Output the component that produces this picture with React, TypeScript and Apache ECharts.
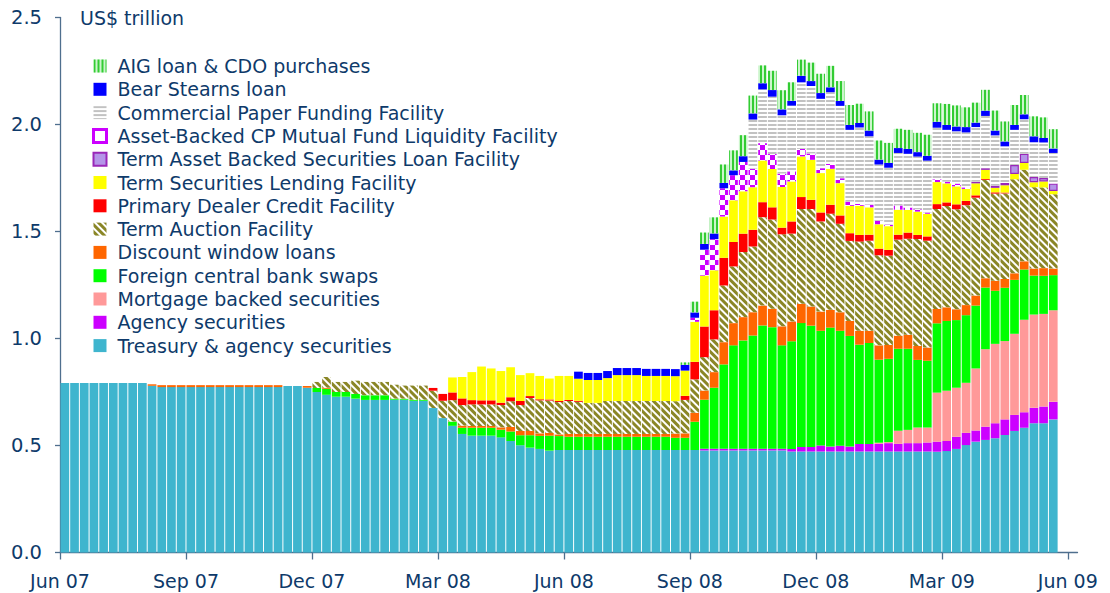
import React, { useEffect, useRef } from 'react';
import * as echarts from 'echarts';

// ---- weekly categories: 105 week slots on the axis, 103 with data (Jun 2007 .. May 2009) ----
const DAY = 24 * 3600 * 1000;
const START = Date.UTC(2007, 4, 30);
const NUM_SLOTS = 105;
const weeks: string[] = [];
for (let i = 0; i < NUM_SLOTS; i++) weeks.push(new Date(START + i * 7 * DAY).toISOString().slice(0, 10));

const tickWeekIndex = [0, 13, 26, 39, 52, 65, 78, 91, 104];
const tickLabels = ['Jun 07', 'Sep 07', 'Dec 07', 'Mar 08', 'Jun 08', 'Sep 08', 'Dec 08', 'Mar 09', 'Jun 09'];
const yTicks = [0, 0.5, 1.0, 1.5, 2.0, 2.5];

// ---- series values, US$ trillion (one per week) ----
const treasury = [
  0.792,0.792,0.792,0.792,0.792,0.792,0.792,0.792,0.792,0.779,
  0.773,0.773,0.773,0.773,0.773,0.773,0.773,0.773,0.773,0.773,
  0.773,0.773,0.773,0.778,0.778,0.770,0.750,0.737,0.728,0.728,
  0.719,0.713,0.713,0.713,0.714,0.714,0.709,0.709,0.675,0.628,
  0.592,0.554,0.546,0.546,0.546,0.538,0.521,0.501,0.490,0.484,
  0.476,0.479,0.479,0.479,0.479,0.479,0.479,0.479,0.479,0.479,
  0.479,0.479,0.479,0.479,0.479,0.479,0.477,0.477,0.477,0.477,
  0.477,0.477,0.477,0.477,0.477,0.472,0.472,0.472,0.472,0.472,
  0.472,0.472,0.472,0.472,0.472,0.472,0.472,0.472,0.472,0.472,
  0.471,0.474,0.484,0.502,0.518,0.526,0.534,0.549,0.568,0.583,
  0.604,0.604,0.622,
];
const agency = [
  0,0,0,0,0,0,0,0,0,0, 0,0,0,0,0,0,0,0,0,0, 0,0,0,0,0,0,0,0,0,0,
  0,0,0,0,0,0,0,0,0,0, 0,0,0,0,0,0,0,0,0,0, 0,0,0,0,0,0,0,0,0,0,
  0,0,0,0,0,0,0.008,0.008,0.008,0.008,
  0.008,0.008,0.008,0.008,0.008,0.012,0.021,0.021,0.028,0.023,
  0.027,0.023,0.035,0.035,0.036,0.039,0.036,0.039,0.039,0.042,
  0.047,0.047,0.057,0.057,0.052,0.062,0.070,0.073,0.075,0.072,
  0.072,0.078,0.082,
];
const mbs = [
  0,0,0,0,0,0,0,0,0,0, 0,0,0,0,0,0,0,0,0,0, 0,0,0,0,0,0,0,0,0,0,
  0,0,0,0,0,0,0,0,0,0, 0,0,0,0,0,0,0,0,0,0, 0,0,0,0,0,0,0,0,0,0,
  0,0,0,0,0,0,0,0,0,0, 0,0,0,0,0,0,0,0,0,0,
  0,0,0,0,0.005,0.005,0.061,0.062,0.073,0.070,
  0.229,0.235,0.229,0.234,0.290,0.362,0.371,0.366,0.379,0.433,
  0.436,0.433,0.428,
];
const fxSwaps = [
  0,0,0,0,0,0,0,0,0,0, 0,0,0,0,0,0,0,0,0,0,
  0,0,0,0,0,0,0.019,0.028,0.022,0.022,
  0.022,0.022,0.022,0.022,0.005,0.005,0.005,0.005,0,0,
  0.020,0.029,0.037,0.037,0.037,0.036,0.045,0.047,0.058,0.061,
  0.070,0.065,0.062,0.062,0.062,0.062,0.062,0.062,0.062,0.062,
  0.062,0.062,0.062,0.057,0.057,0.132,0.229,0.285,0.394,0.483,
  0.506,0.529,0.576,0.568,0.483,0.503,0.579,0.567,0.536,0.556,
  0.537,0.517,0.464,0.472,0.388,0.389,0.383,0.379,0.316,0.312,
  0.324,0.326,0.316,0.316,0.294,0.288,0.248,0.249,0.252,0.234,
  0.182,0.178,0.164,
];
const discountWindow = [
  0,0,0,0,0,0,0,0,0,0.007,
  0.009,0.009,0.009,0.009,0.009,0.009,0.009,0.009,0.009,0.009,
  0.009,0.009,0.009,0,0,0.008,0,0.005,0,0,
  0,0,0,0,0,0,0,0,0,0,
  0,0.010,0.008,0.008,0.008,0.011,0.020,0.020,0.020,0.012,
  0.013,0.008,0.013,0.013,0.013,0.013,0.013,0.013,0.013,0.013,
  0.013,0.013,0.013,0.020,0.021,0.042,0.043,0.073,0.104,0.104,
  0.109,0.109,0.093,0.086,0.089,0.093,0.090,0.090,0.090,0.083,
  0.087,0.070,0.065,0.057,0.067,0.065,0.061,0.065,0.065,0.062,
  0.067,0.064,0.051,0.047,0.047,0.044,0.047,0.041,0.031,0.039,
  0.033,0.036,0.031,
];
const taf = [
  0,0,0,0,0,0,0,0,0,0, 0,0,0,0,0,0,0,0,0,0,
  0,0,0,0,0,0,0.028,0.050,0.047,0.047,
  0.062,0.062,0.062,0.062,0.065,0.061,0.066,0.066,0.081,0.081,
  0.100,0.096,0.101,0.101,0.101,0.104,0.121,0.121,0.154,0.154,
  0.151,0.151,0.154,0.150,0.145,0.145,0.154,0.154,0.154,0.154,
  0.154,0.154,0.154,0.151,0.156,0.156,0.156,0.153,0.265,0.265,
  0.304,0.307,0.413,0.417,0.430,0.410,0.443,0.455,0.421,0.449,
  0.413,0.374,0.417,0.421,0.421,0.417,0.449,0.449,0.500,0.499,
  0.467,0.473,0.467,0.467,0.457,0.459,0.407,0.400,0.439,0.428,
  0.380,0.377,0.347,
];
const pdcf = [
  0,0,0,0,0,0,0,0,0,0, 0,0,0,0,0,0,0,0,0,0, 0,0,0,0,0,0,0,0,0,0,
  0,0,0,0,0,0,0,0,0.013,0.032,
  0.036,0.031,0.020,0.019,0.019,0.011,0.019,0.019,0.009,0.005,
  0.005,0.005,0.005,0.005,0,0,0,0,0,0,
  0,0,0,0,0.019,0.082,0.143,0.136,0.129,0.114,
  0.086,0.078,0.070,0.057,0.031,0.057,0.056,0.043,0.042,0.042,
  0.039,0.036,0.031,0.028,0.031,0.027,0.023,0.029,0.019,0.020,
  0.023,0.017,0.023,0.020,0.011,0.004,0.006,0.004,0,0,
  0,0,0,
];
const tslf = [
  0,0,0,0,0,0,0,0,0,0, 0,0,0,0,0,0,0,0,0,0, 0,0,0,0,0,0,0,0,0,0,
  0,0,0,0,0,0,0,0,0,0,
  0.070,0.100,0.131,0.158,0.149,0.148,0.140,0.121,0.107,0.109,
  0.098,0.117,0.112,0.103,0.107,0.107,0.107,0.121,0.121,0.121,
  0.117,0.117,0.117,0.117,0.118,0.187,0.238,0.187,0.193,0.195,
  0.198,0.199,0.195,0.179,0.190,0.187,0.190,0.187,0.184,0.168,
  0.151,0.128,0.136,0.128,0.114,0.111,0.117,0.106,0.109,0.106,
  0.103,0.089,0.084,0.056,0.056,0.043,0.021,0.034,0.025,0.031,
  0.023,0.028,0.015,
];
const talf = [
  0,0,0,0,0,0,0,0,0,0, 0,0,0,0,0,0,0,0,0,0, 0,0,0,0,0,0,0,0,0,0,
  0,0,0,0,0,0,0,0,0,0, 0,0,0,0,0,0,0,0,0,0, 0,0,0,0,0,0,0,0,0,0,
  0,0,0,0,0,0,0,0,0,0, 0,0,0,0,0,0,0,0,0,0, 0,0,0,0,0,0,0,0,0,0,
  0,0,0,0,0.008,0.008,0.011,0.011,0.042,0.043,
  0.025,0.016,0.035,
];
const amlf = [
  0,0,0,0,0,0,0,0,0,0, 0,0,0,0,0,0,0,0,0,0, 0,0,0,0,0,0,0,0,0,0,
  0,0,0,0,0,0,0,0,0,0, 0,0,0,0,0,0,0,0,0,0, 0,0,0,0,0,0,0,0,0,0,
  0,0,0,0,0,0.019,0.121,0.145,0.132,0.117,
  0.137,0.087,0.081,0.070,0.063,0.047,0.035,0.030,0.023,0.023,
  0.023,0.020,0.009,0.013,0.016,0.008,0.020,0.011,0.011,0.006,
  0.013,0.008,0.013,0.007,0,0,0,0,0,0,
  0,0,0,
];
const cpff = [
  0,0,0,0,0,0,0,0,0,0, 0,0,0,0,0,0,0,0,0,0, 0,0,0,0,0,0,0,0,0,0,
  0,0,0,0,0,0,0,0,0,0, 0,0,0,0,0,0,0,0,0,0, 0,0,0,0,0,0,0,0,0,0,
  0,0,0,0,0,0,0,0,0,0,
  0,0.229,0.251,0.268,0.272,0.307,0.311,0.315,0.324,0.335,
  0.338,0.335,0.357,0.319,0.263,0.265,0.245,0.251,0.246,0.242,
  0.241,0.242,0.244,0.257,0.255,0.244,0.234,0.171,0.164,0.162,
  0.162,0.166,0.143,
];
const bearStearns = [
  0,0,0,0,0,0,0,0,0,0, 0,0,0,0,0,0,0,0,0,0, 0,0,0,0,0,0,0,0,0,0,
  0,0,0,0,0,0,0,0,0,0, 0,0,0,0,0,0,0,0,0,0,
  0,0,0,0.033,0.033,0.033,0.033,0.033,0.033,0.033,
  0.033,0.033,0.033,0.033,0.027,0.025,0.027,0.027,0.025,0.023,
  0.027,0.029,0.029,0.031,0.028,0.023,0.031,0.023,0.027,0.023,
  0.023,0.023,0.021,0.027,0.023,0.023,0.023,0.023,0.021,0.023,
  0.028,0.023,0.023,0.025,0.021,0.025,0.023,0.023,0.023,0.023,
  0.028,0.021,0.021,
];
const aig = [
  0,0,0,0,0,0,0,0,0,0, 0,0,0,0,0,0,0,0,0,0, 0,0,0,0,0,0,0,0,0,0,
  0,0,0,0,0,0,0,0,0,0, 0,0,0,0,0,0,0,0,0,0, 0,0,0,0,0,0,0,0,0,0,
  0,0,0,0,0.011,0.050,0.053,0.075,0.086,0.093,
  0.098,0.083,0.083,0.090,0.089,0.086,0.075,0.086,0.090,0.100,
  0.093,0.093,0.090,0.089,0.089,0.093,0.090,0.089,0.090,0.098,
  0.086,0.098,0.098,0.092,0.093,0.097,0.093,0.093,0.093,0.090,
  0.093,0.096,0.090,
];

const NAMES = {
  aig: 'AIG loan & CDO purchases',
  bs: 'Bear Stearns loan',
  cpff: 'Commercial Paper Funding Facility',
  amlf: 'Asset-Backed CP Mutual Fund Liquidity Facility',
  talf: 'Term Asset Backed Securities Loan Facility',
  tslf: 'Term Securities Lending Facility',
  pdcf: 'Primary Dealer Credit Facility',
  taf: 'Term Auction Facility',
  dw: 'Discount window loans',
  fx: 'Foreign central bank swaps',
  mbs: 'Mortgage backed securities',
  ag: 'Agency securities',
  t: 'Treasury & agency securities',
};

const FONT = '"DejaVu Sans", Verdana, sans-serif';
const TEXT = '#0E3A6A';
const AXIS = '#4F6F8E';

export default function App() {
  const ref = useRef<HTMLDivElement>(null);
  useEffect(() => {
    document.body.style.margin = '0';
    const chart = echarts.init(ref.current as HTMLDivElement, null, { renderer: 'svg' });

    const mk = (name: string, vals: number[], itemStyle: any) => ({
      name,
      type: 'bar',
      stack: 'total',
      xAxisIndex: 0,
      barWidth: 8.7,
      data: vals.map((v) => (v === 0 ? null : v)),
      itemStyle,
      emphasis: { disabled: true },
    });

    const series = [
      mk(NAMES.t, treasury, { color: '#3FB5CE' }),
      mk(NAMES.ag, agency, { color: '#CC00FF' }),
      mk(NAMES.mbs, mbs, { color: '#FF9999' }),
      mk(NAMES.fx, fxSwaps, { color: '#00FF00' }),
      mk(NAMES.dw, discountWindow, { color: '#FF6600' }),
      mk(NAMES.taf, taf, {
        color: '#FFFFFF',
        decal: { symbol: 'rect', symbolSize: 1, color: '#8A8626', dashArrayX: [1, 0], dashArrayY: [2.2, 1.8], rotation: Math.PI / 4 },
      }),
      mk(NAMES.pdcf, pdcf, { color: '#FF0000' }),
      mk(NAMES.tslf, tslf, { color: '#FFFF00' }),
      mk(NAMES.talf, talf, { color: '#B495E8', borderColor: '#9A27B8', borderWidth: 1.2 }),
      mk(NAMES.amlf, amlf, {
        color: '#FFFFFF',
        decal: { symbol: 'rect', symbolSize: 1, color: '#CC00FF', dashArrayX: [[4.5, 4.5], [0, 4.5, 4.5, 0]], dashArrayY: [4.5, 0] },
      }),
      mk(NAMES.cpff, cpff, {
        color: '#FFFFFF',
        decal: { symbol: 'rect', symbolSize: 1, color: '#C2C2C2', dashArrayX: [1, 0], dashArrayY: [2, 1.3] },
      }),
      mk(NAMES.bs, bearStearns, { color: '#0000FF' }),
      mk(NAMES.aig, aig, {
        color: '#CCF5CC',
        decal: { symbol: 'rect', symbolSize: 1, color: '#33CC33', dashArrayX: [2, 1.3], dashArrayY: [1, 0] },
      }),
    ];

    chart.setOption({
      animation: false,
      textStyle: { fontFamily: FONT },
      grid: { left: 60, top: 17.5, width: 1017.5, height: 535 },
      legend: {
        orient: 'vertical',
        left: 92,
        top: 56.5,
        padding: 0,
        icon: 'rect',
        itemWidth: 13,
        itemHeight: 13,
        itemGap: 4.3,
        selectedMode: false,
        textStyle: { fontSize: 19, lineHeight: 19, color: TEXT, fontFamily: FONT, padding: [0, 0, 0, 6] },
        data: [
          NAMES.aig,
          NAMES.bs,
          NAMES.cpff,
          { name: NAMES.amlf, itemStyle: { color: '#FFFFFF', borderColor: '#CC00FF', borderWidth: 3, decal: 'none' } },
          NAMES.talf,
          NAMES.tslf,
          NAMES.pdcf,
          NAMES.taf,
          NAMES.dw,
          NAMES.fx,
          NAMES.mbs,
          NAMES.ag,
          NAMES.t,
        ],
      },
      graphic: [
        { type: 'text', left: 80, top: 8.5, style: { text: 'US$ trillion', fontSize: 19, fill: TEXT, fontFamily: FONT } },
      ],
      xAxis: [
        {
          type: 'category',
          data: weeks,
          boundaryGap: true,
          position: 'bottom',
          axisLine: { show: true, lineStyle: { color: AXIS, width: 1.3 } },
          axisTick: { show: false },
          axisLabel: { show: false },
          splitLine: { show: false },
        },
        {
          // week-number scale carrying the quarterly ticks and labels
          type: 'value',
          min: 0,
          max: NUM_SLOTS,
          position: 'bottom',
          axisLine: { show: false },
          axisTick: { show: true, length: 7, customValues: tickWeekIndex, lineStyle: { color: AXIS, width: 1.3 } },
          axisLabel: {
            customValues: tickWeekIndex,
            formatter: (v: number) => tickLabels[tickWeekIndex.indexOf(Math.round(v))] || '',
            color: TEXT,
            fontSize: 19,
            fontFamily: FONT,
            margin: 19,
            showMinLabel: true,
            showMaxLabel: true,
          },
          splitLine: { show: false },
        },
      ],
      yAxis: {
        type: 'value',
        min: yTicks[0],
        max: yTicks[yTicks.length - 1],
        interval: 0.5,
        axisLine: { show: true, lineStyle: { color: AXIS, width: 1.3 } },
        axisTick: { show: true, length: 5, lineStyle: { color: AXIS, width: 1.3 } },
        axisLabel: { formatter: (v: number) => v.toFixed(1), color: TEXT, fontSize: 19.5, fontFamily: FONT, margin: 18 },
        splitLine: { show: false },
      },
      series,
    });
    return () => chart.dispose();
  }, []);
  return <div ref={ref} style={{ width: 1110, height: 593 }} />;
}
